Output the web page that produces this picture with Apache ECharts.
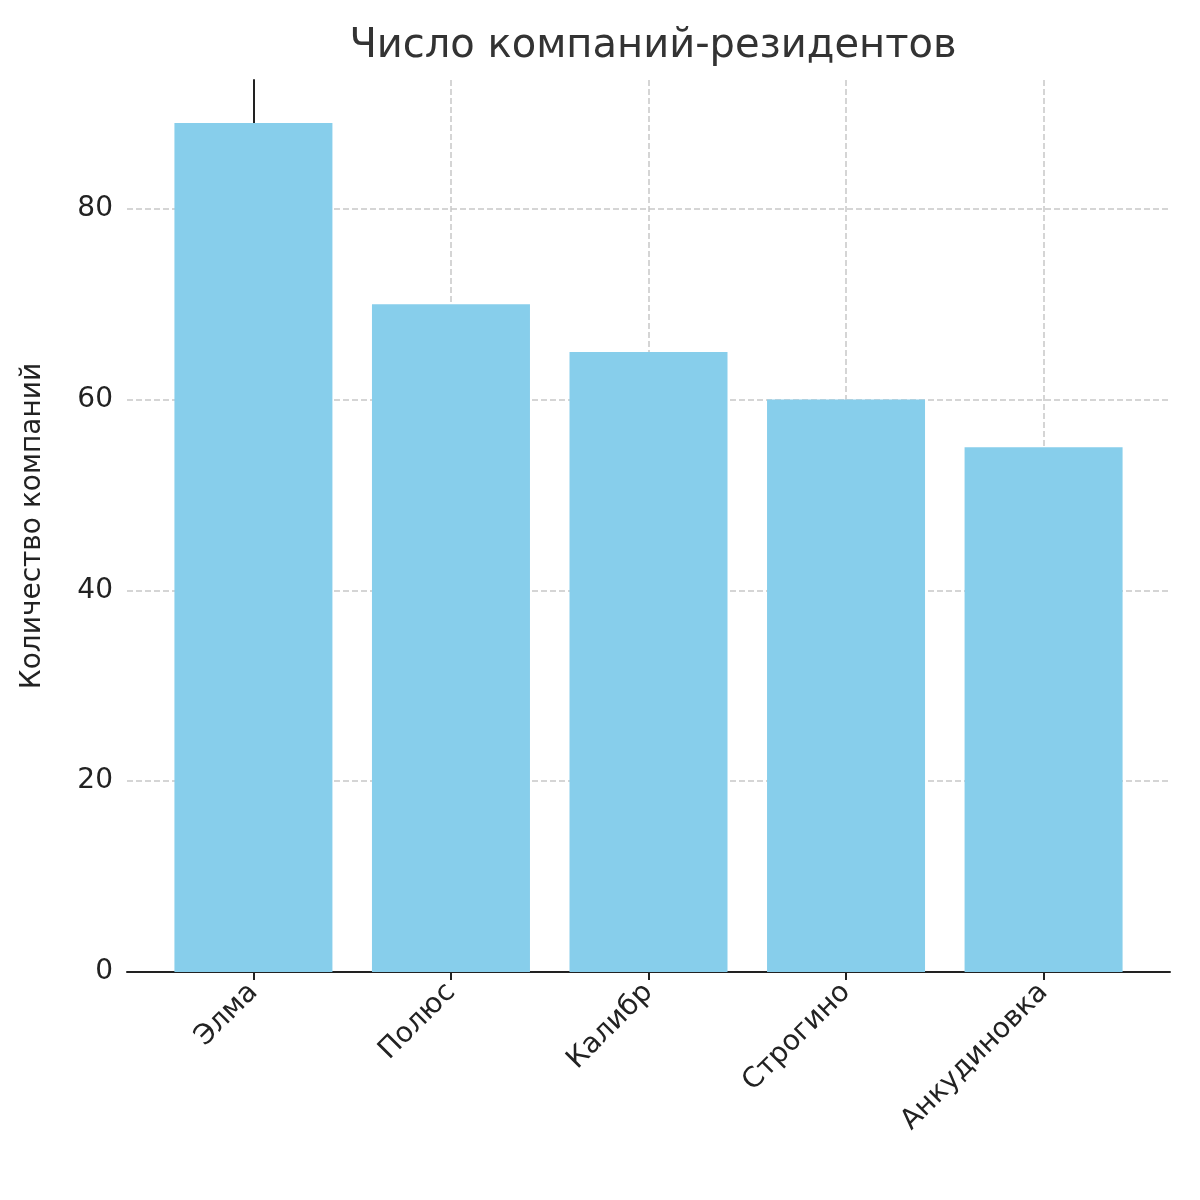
<!DOCTYPE html>
<html lang="ru">
<head>
<meta charset="UTF-8">
<script src="https://cdn.jsdelivr.net/npm/echarts@6/dist/echarts.min.js"></script>
<style>
  html, body { margin: 0; background: #fff; }
  #chart { width: 1200px; height: 1200px; }
</style>
</head>
<body>
<div id="chart"></div>
<script>
var parks = ['Элма', 'Полюс', 'Калибр', 'Строгино', 'Анкудиновка'];
var residents = [89, 70, 65, 60, 55];
var yTicks = [0, 20, 40, 60, 80];

var chart = echarts.init(document.getElementById('chart'));
var font = 'DejaVu Sans';
var positions = parks.map(function (p, i) { return i; });

chart.setOption({
  animation: false,
  title: {
    text: 'Число компаний-резидентов',
    left: 648, top: 22, textAlign: 'center',
    textStyle: { fontFamily: font, fontSize: 40, fontWeight: 'normal', color: '#333' }
  },
  grid: { left: 127, right: 30, top: 80, bottom: 228 },
  xAxis: {
    type: 'value', min: -0.64, max: 4.64,
    axisLine: { lineStyle: { color: '#222', width: 2 } },
    axisTick: { show: true, customValues: positions, length: 8, lineStyle: { color: '#222', width: 2 } },
    axisLabel: {
      customValues: positions, rotate: 45, margin: 16,
      fontFamily: font, fontSize: 28, color: '#222',
      formatter: function (v) { return parks[Math.round(v)]; }
    },
    splitLine: { show: true, lineStyle: { type: 'dashed', color: '#c8c8c8', width: 1.5 } }
  },
  yAxis: {
    type: 'value', min: 0, max: 93.5,
    name: 'Количество компаний', nameLocation: 'middle', nameGap: 80,
    nameTextStyle: { fontFamily: font, fontSize: 28, color: '#222' },
    axisLine: { show: true, lineStyle: { color: '#222', width: 2 } },
    axisTick: { show: true, customValues: yTicks, length: 8, lineStyle: { color: '#222', width: 2 } },
    axisLabel: { customValues: yTicks, fontFamily: font, fontSize: 28, color: '#222', margin: 14 },
    splitLine: { show: true, lineStyle: { type: 'dashed', color: '#c8c8c8', width: 1.5 } }
  },
  series: [{
    type: 'bar',
    barWidth: 158,
    itemStyle: { color: '#87ceeb' },
    data: residents.map(function (v, i) { return [i, v]; })
  }]
});
</script>
</body>
</html>
